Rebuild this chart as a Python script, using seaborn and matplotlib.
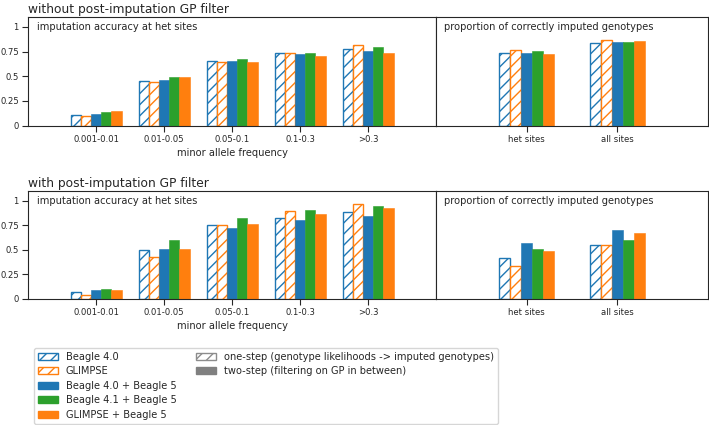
import matplotlib
matplotlib.use("Agg")
import matplotlib.pyplot as plt
from matplotlib.patches import Patch
import seaborn as sns
import pandas as pd

# ---------------- data ----------------
maf_labels = ['0.001-0.01', '0.01-0.05', '0.05-0.1', '0.1-0.3', '>0.3']
site_labels = ['het sites', 'all sites']
methods = ['Beagle 4.0', 'GLIMPSE', 'Beagle 4.0 + Beagle 5',
           'Beagle 4.1 + Beagle 5', 'GLIMPSE + Beagle 5']

# without post-imputation GP filter
nofilt_b40 = [0.11, 0.45, 0.65, 0.73, 0.78]
nofilt_glimpse = [0.10, 0.44, 0.64, 0.74, 0.82]
nofilt_b40_b5 = [0.12, 0.46, 0.65, 0.72, 0.76]
nofilt_b41_b5 = [0.14, 0.49, 0.67, 0.74, 0.80]
nofilt_glimpse_b5 = [0.15, 0.49, 0.64, 0.70, 0.74]

nofilt_sites_b40 = [0.74, 0.84]
nofilt_sites_glimpse = [0.765, 0.87]
nofilt_sites_b40_b5 = [0.73, 0.85]
nofilt_sites_b41_b5 = [0.76, 0.85]
nofilt_sites_glimpse_b5 = [0.72, 0.855]

# with post-imputation GP filter
filt_b40 = [0.07, 0.50, 0.75, 0.83, 0.89]
filt_glimpse = [0.04, 0.43, 0.75, 0.90, 0.97]
filt_b40_b5 = [0.09, 0.51, 0.72, 0.80, 0.85]
filt_b41_b5 = [0.10, 0.60, 0.82, 0.91, 0.95]
filt_glimpse_b5 = [0.09, 0.51, 0.76, 0.87, 0.93]

filt_sites_b40 = [0.42, 0.545]
filt_sites_glimpse = [0.34, 0.555]
filt_sites_b40_b5 = [0.57, 0.705]
filt_sites_b41_b5 = [0.505, 0.60]
filt_sites_glimpse_b5 = [0.49, 0.675]

colors = ['#1f77b4', '#ff7f0e', '#1f77b4', '#2ca02c', '#ff7f0e']
hatched = [True, True, False, False, False]


def long_df(cats, series):
    rows = []
    for m, vals in zip(methods, series):
        for c, v in zip(cats, vals):
            rows.append({'cat': c, 'method': m, 'value': v})
    return pd.DataFrame(rows)


panels = [
    ('without post-imputation GP filter',
     long_df(maf_labels, [nofilt_b40, nofilt_glimpse, nofilt_b40_b5, nofilt_b41_b5, nofilt_glimpse_b5]),
     long_df(site_labels, [nofilt_sites_b40, nofilt_sites_glimpse, nofilt_sites_b40_b5,
                           nofilt_sites_b41_b5, nofilt_sites_glimpse_b5])),
    ('with post-imputation GP filter',
     long_df(maf_labels, [filt_b40, filt_glimpse, filt_b40_b5, filt_b41_b5, filt_glimpse_b5]),
     long_df(site_labels, [filt_sites_b40, filt_sites_glimpse, filt_sites_b40_b5,
                           filt_sites_b41_b5, filt_sites_glimpse_b5])),
]

sns.set_style('ticks')
plt.rcParams['font.family'] = ['DejaVu Sans']
plt.rcParams['hatch.linewidth'] = 1.0

W, H = 709, 425
fig = plt.figure(figsize=(W / 100, H / 100), dpi=100)

ax_rows = [(17, 125.5), (191, 299)]
left_px, mid_px, right_px = 28, 436, 708

pal = dict(zip(methods, colors))


def style_bars(ax):
    for cont, col, h in zip(ax.containers, colors, hatched):
        for p in cont.patches:
            if h:
                p.set_facecolor('white')
                p.set_edgecolor(col)
                p.set_hatch('///')
                p.set_linewidth(1.0)
            else:
                p.set_facecolor(col)
                p.set_edgecolor(col)
                p.set_linewidth(0.4)


for (title, df_maf, df_sites), (top, bot) in zip(panels, ax_rows):
    b = 1 - bot / H
    h = (bot - top) / H
    axL = fig.add_axes([left_px / W, b, (mid_px - left_px) / W, h])
    axR = fig.add_axes([mid_px / W, b, (right_px - mid_px) / W, h])

    sns.barplot(data=df_maf, x='cat', y='value', hue='method', order=maf_labels,
                hue_order=methods, palette=pal, width=0.75, saturation=1,
                legend=False, ax=axL)
    sns.barplot(data=df_sites, x='cat', y='value', hue='method', order=site_labels,
                hue_order=methods, palette=pal, width=0.6, saturation=1,
                legend=False, ax=axR)
    style_bars(axL)
    style_bars(axR)

    axL.set_xlim(-1, 5)
    axR.set_xlim(-1, 2)
    for ax in (axL, axR):
        ax.set_ylim(0, 1.1)
        ax.set_ylabel('')
        for s in ax.spines.values():
            s.set_visible(True)
            s.set_linewidth(0.8)
            s.set_color('#262626')
        ax.tick_params(axis='x', labelsize=6.1, length=4, width=0.8, pad=2.5, colors='#262626')
    axL.set_yticks([0, 0.25, 0.5, 0.75, 1])
    axL.set_yticklabels(['0', '0.25', '0.5', '0.75', '1'])
    axL.tick_params(axis='y', labelsize=6.1, length=4, width=0.8, pad=2.5, colors='#262626')
    axR.set_yticks([])
    axL.set_xlabel('minor allele frequency', fontsize=7.1, labelpad=3)
    axR.set_xlabel('')
    axL.text(0.021, 0.95, 'imputation accuracy at het sites', transform=axL.transAxes,
             ha='left', va='top', fontsize=7.1, color='#262626')
    axR.text(0.03, 0.95, 'proportion of correctly imputed genotypes', transform=axR.transAxes,
             ha='left', va='top', fontsize=7.1, color='#262626')
    axL.set_title(title, loc='left', fontsize=8.8, pad=3, color='#262626')

# legend
handles = []
labels = []
for m, col, hflag in zip(methods, colors, hatched):
    if hflag:
        handles.append(Patch(facecolor='white', edgecolor=col, hatch='///', linewidth=1.0))
    else:
        handles.append(Patch(facecolor=col, edgecolor=col))
    labels.append(m)
handles.append(Patch(facecolor='white', edgecolor='#8c8c8c', hatch='///', linewidth=1.0))
labels.append('one-step (genotype likelihoods -> imputed genotypes)')
handles.append(Patch(facecolor='#808080', edgecolor='#808080'))
labels.append('two-step (filtering on GP in between)')
for _ in range(3):
    handles.append(Patch(facecolor='none', edgecolor='none', visible=False))
    labels.append('')

fig.legend(handles, labels, ncol=2, loc='upper left',
           bbox_to_anchor=(34 / W, 1 - 348 / H), fontsize=7.1,
           labelspacing=0.45, columnspacing=2.0, borderaxespad=0,
           frameon=True, edgecolor='#cccccc')

fig.savefig('out.png', dpi=100)
